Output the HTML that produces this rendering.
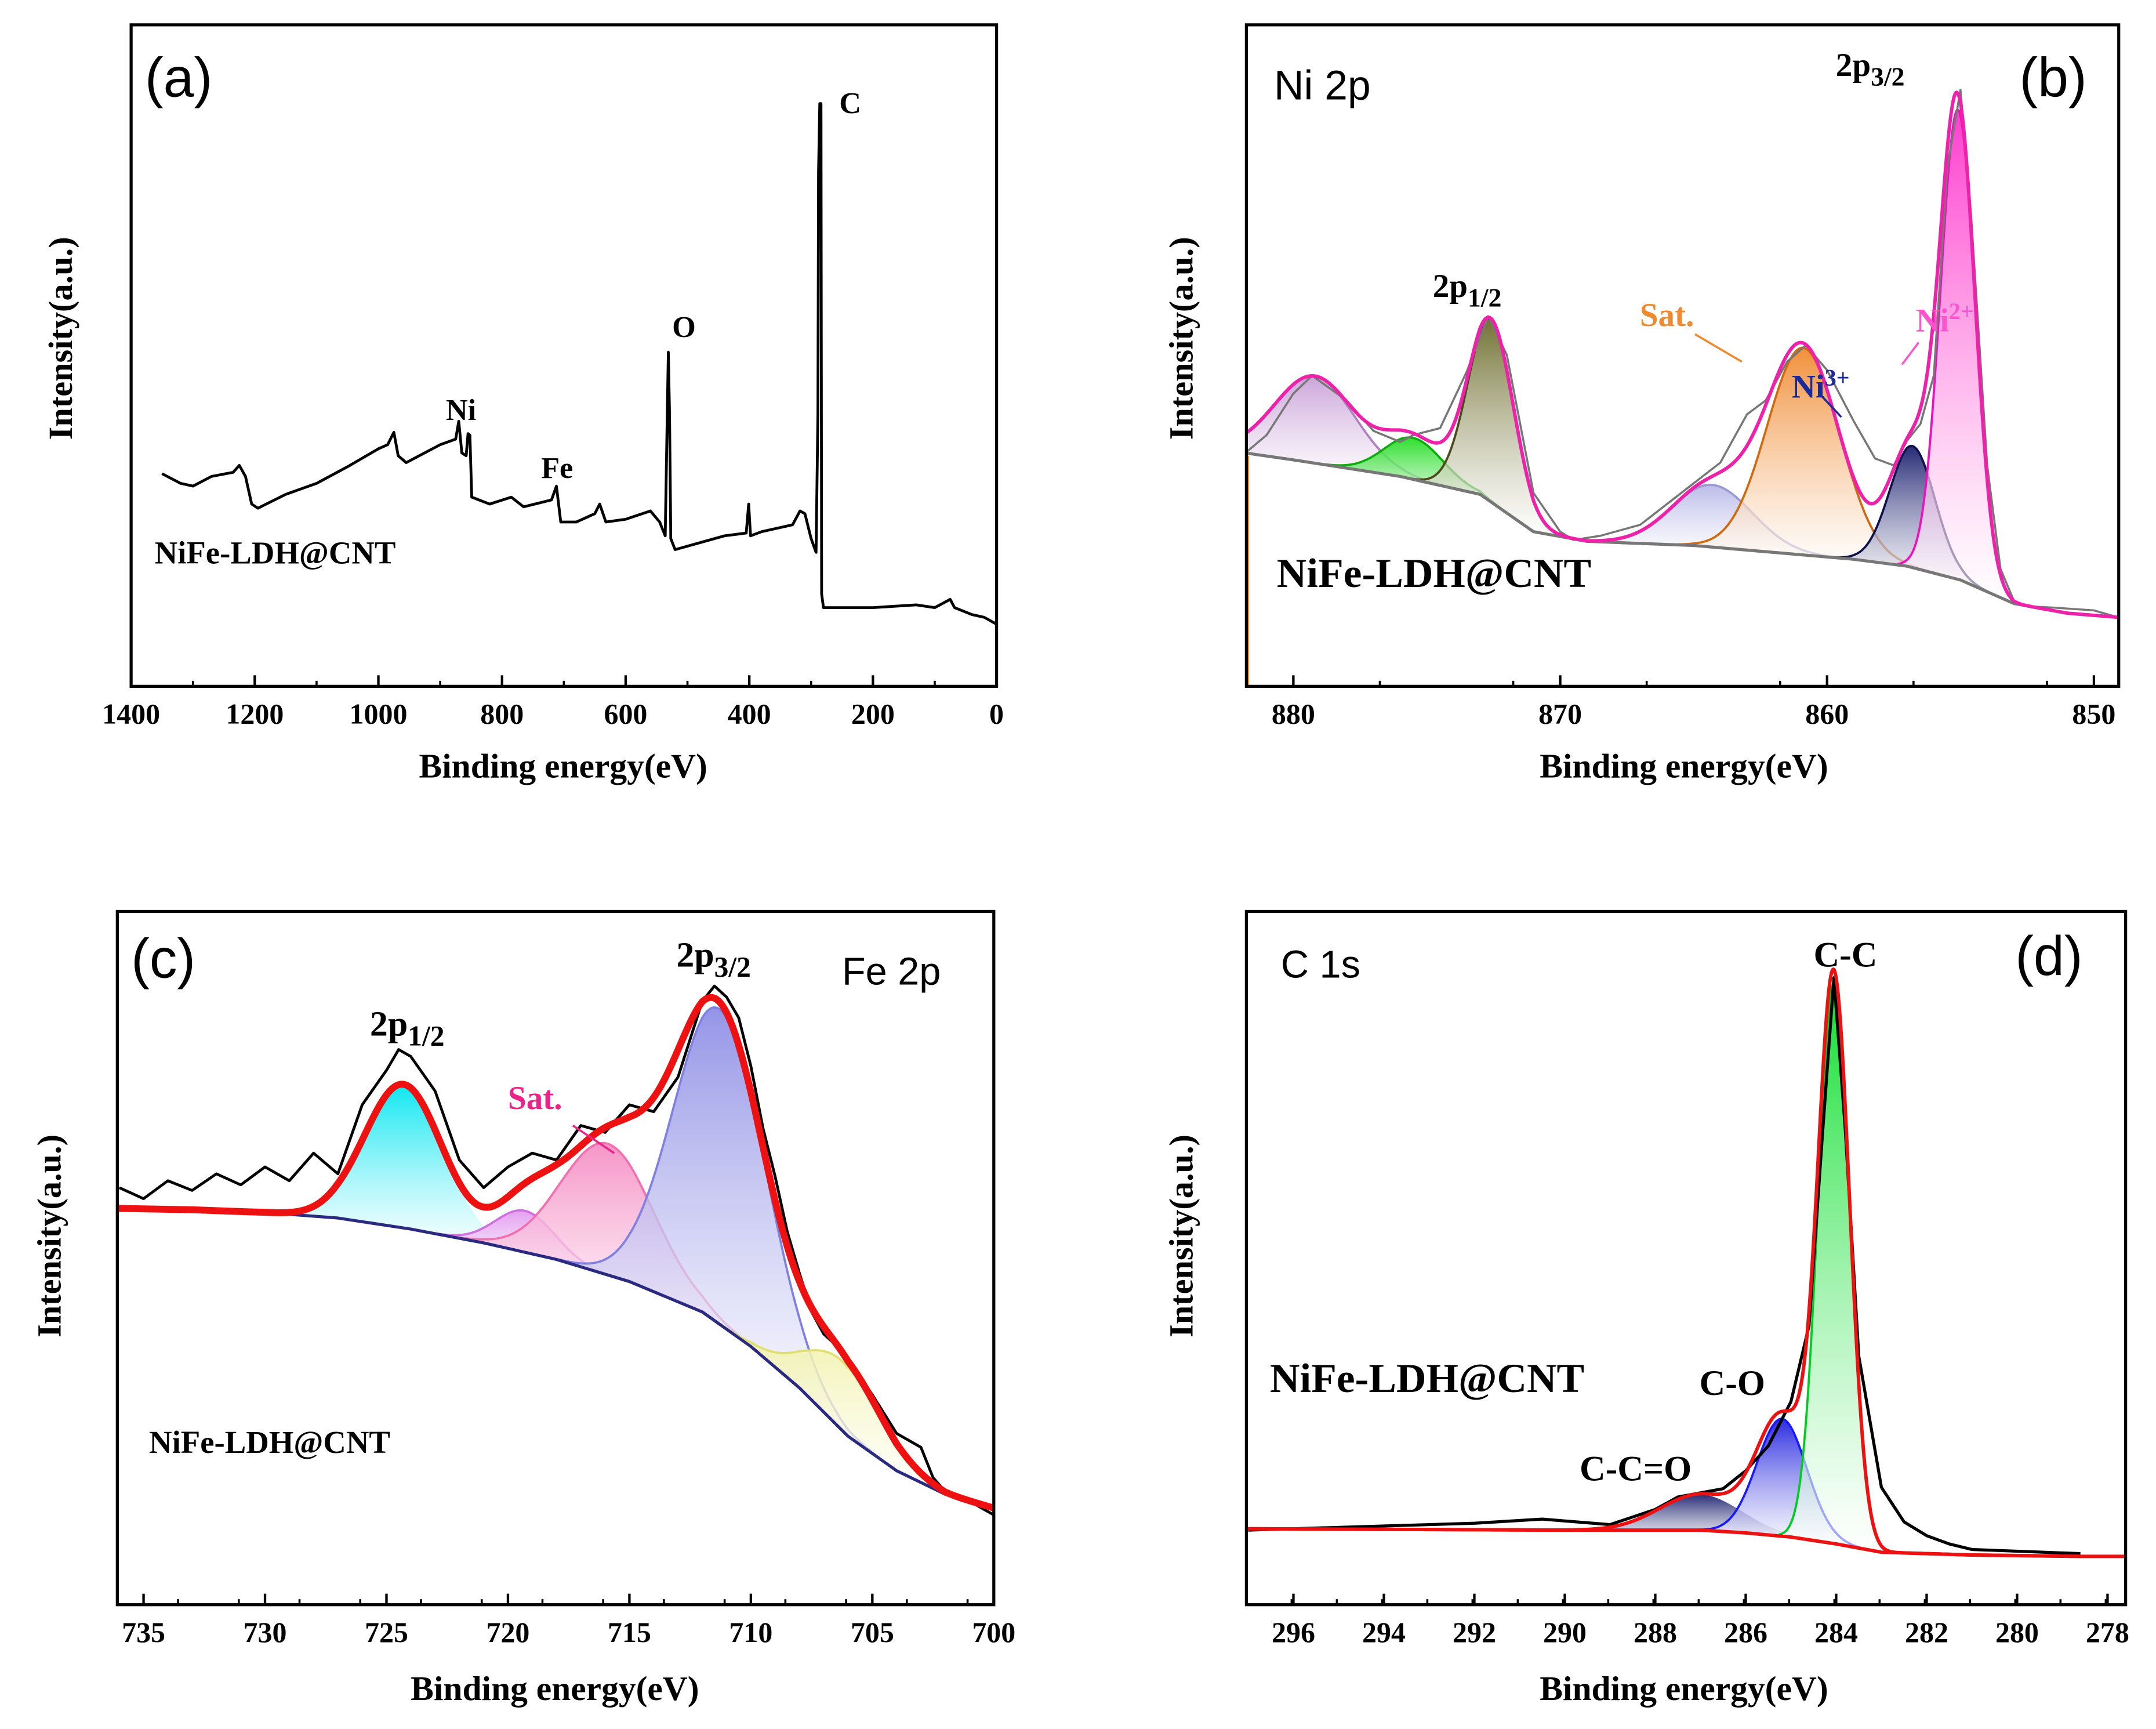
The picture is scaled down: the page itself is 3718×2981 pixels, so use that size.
<!DOCTYPE html>
<html><head><meta charset="utf-8"><style>
html,body{margin:0;padding:0;background:#fff}
svg{display:block}
.ser{font-family:"Liberation Serif",serif;font-weight:bold}
.san{font-family:"Liberation Sans",sans-serif}
</style></head><body>
<svg id="fig" width="3718" height="2981" viewBox="0 0 1562 1252" preserveAspectRatio="none" xmlns="http://www.w3.org/2000/svg">
<defs id="defs"></defs>
<g id="root"></g>
</svg>
<script>
// ---------- Panel (a) survey ----------
const aBE=[1350,1320,1300,1270,1235,1225,1215,1205,1195,1150,1100,1050,1000,985,975,968,955,900,875,870,865,858,855,852,849,820,785,765,720,712,705,680,650,642,632,600,560,545,536,533,531,529,527,520,480,440,405,401,398,380,330,318,310,300,292,289,288,286,284,283,280,200,130,100,75,68,40,20,0];
const aVal=[154,147,145,152,155,160,152,132,129,139,147,159,172,175,184,167,162,175,179,192,169,167,183,182,137,132,137,130,135,145,119,119,125,132,119,121,127,119,109,189,242,197,107,99,104,109,111,132,109,112,117,127,125,107,97,197,372,422,422,67,57,57,59,57,63,57,52,50,45];
const aTicks=[1400,1200,1000,800,600,400,200,0];
// ---------- Panel (b) Ni 2p ----------
const bBaseBE=[881.8,880,876,873,871,869,865,862,859,857,855,853,851,849.1];
const bBaseVal=[169,164,152,139,112,105,102,97,92,87,77,60,53,50];
const bCenters=[879.2,875.5,872.6,864.3,860.9,856.8,855.1];
const bHeights=[63,30,132,45,150,88,340];
const bSigmas=[1.5,1.1,0.85,1.5,1.35,0.85,0.65];
const bRawBE=[881.8,881,880,879.3,878,877,876,875.5,874.5,873.5,872.7,872,871,870,869.5,868.5,867,866,865,864,863,862.3,861.5,860.8,860,859,858.2,857.5,857,856.5,856,855.5,855,854.6,854,853.5,853,852.5,851.5,850,849.1];
const bRawVal=[169,182,212,225,207,185,177,182,187,228,268,240,140,112,106,109,117,132,147,162,197,207,235,247,229,192,165,160,178,190,225,375,432,340,160,85,62,58,57,55,50];
const bTicks=[880,870,860,850];
// ---------- Panel (c) Fe 2p ----------
const cBaseBE=[736.1,733,730,727,724,721,718,715,712,710,708,706,704,702,700];
const cBaseVal=[287,286,284,280,272,262,250,234,212,187,157,122,97,80,70];
const cCenters=[724.3,719.3,715.9,711.3,706.2];
const cHeights=[104,30,95,228,50];
const cSigmas=[1.6,1.2,1.9,1.9,1.6];
const cRawBE=[736,735,734,733,732,731,730,729,728,727,726,725,724.5,724,723,722,721,720,719,718,717,716,715,714,713,712,711.5,711,710.5,710,709.5,709,708.5,708,707.5,707,706.5,706,705,704,703,702.5,702,701,700];
const cRawVal=[302,294,307,300,312,304,317,307,327,312,362,387,402,397,372,322,302,317,327,322,347,342,362,357,382,437,448,440,425,390,345,310,270,240,212,196,188,178,152,124,114,92,82,75,65];
const cTicks=[735,730,725,720,715,710,705,700];
// ---------- Panel (d) C 1s ----------
const dBaseBE=[297,290,287,286,285,284,283,281,278.6];
const dBaseVal=[55,54,54,52,49,44,38,36,35];
const dCenters=[287.0,285.2,284.05];
const dHeights=[26,85,406];
const dSigmas=[0.9,0.55,0.35];
const dRawBE=[297,292,290.5,289,288,287.5,286.5,286,285.5,285,284.6,284.3,284.05,283.8,283.5,283.0,282.5,282,281.5,281,278.6];
const dRawVal=[54,59,62,58,69,78,84,97,115,147,202,342,454,345,180,85,60,50,44,40,37];
const dTicks=[296,294,292,290,288,286,284,282,280,278];

const NS="http://www.w3.org/2000/svg";
const root=document.getElementById('root');
const defs=document.getElementById('defs');
function mk(tag,attrs,parent){const e=document.createElementNS(NS,tag);for(const k in attrs)e.setAttribute(k,attrs[k]);(parent||root).appendChild(e);return e;}
function interp(xs,ys,x){
  if(x>=xs[0])return ys[0];
  for(let i=1;i<xs.length;i++){if(x>=xs[i]){const t=(x-xs[i-1])/(xs[i]-xs[i-1]);return ys[i-1]+t*(ys[i]-ys[i-1]);}}
  return ys[ys.length-1];
}
function makeAxes(L,R,T,B,lo,hi){return {x:v=>L+(hi-v)/(hi-lo)*(R-L),y:v=>B-v,L,R,T,B,lo,hi};}
let gid=0;
function grad(color,op){const id='g'+(gid++);const g=mk('linearGradient',{id:id,x1:0,y1:0,x2:0,y2:1},defs);
 mk('stop',{offset:'0%','stop-color':color,'stop-opacity':op},g);mk('stop',{offset:'100%','stop-color':'#ffffff','stop-opacity':0.6},g);return 'url(#'+id+')';}
function frame(ax,name){const r=mk('rect',{x:ax.L,y:ax.T,width:ax.R-ax.L,height:ax.B-ax.T,fill:'none',stroke:'#000','stroke-width':2.2});
 }
function ticks(ax,list,minorStep,name){
 const g=mk('g',{});
 for(let v=ax.hi;v>=ax.lo;v-=minorStep){const X=ax.x(v);if(X<ax.L+1||X>ax.R-1)continue;mk('line',{x1:X,x2:X,y1:ax.B,y2:ax.B-4,stroke:'#000','stroke-width':1.5},g);}
 list.forEach(v=>{const X=ax.x(v);mk('line',{x1:X,x2:X,y1:ax.B,y2:ax.B-8,stroke:'#000','stroke-width':1.8},g);
  const t=mk('text',{x:X,y:ax.B+27,'text-anchor':'middle','font-size':21,class:'ser'},g);t.textContent=v;});
}
function txt(x,y,s,size,cls,fill,name,anchor){const t=mk('text',{x:x,y:y,'font-size':size,class:cls,fill:fill||'#000','text-anchor':anchor||'start'});t.textContent=s;
 return t;}
function sub(x,y,main,s,size,fill,name){const t=mk('text',{x:x,y:y,'font-size':size,class:'ser',fill:fill||'#000'});
 
 const a=mk('tspan',{},t);a.textContent=main;const b=mk('tspan',{dy:7,'font-size':size*0.8},t);b.textContent=s;return t;}
function sup(x,y,main,s,size,fill,name){const t=mk('text',{x:x,y:y,'font-size':size,class:'ser',fill:fill});
 
 const a=mk('tspan',{},t);a.textContent=main;const b=mk('tspan',{dy:-9,'font-size':size*0.7},t);b.textContent=s;return t;}
function poly(ax,xs,ys,stroke,w,name){let d='';for(let i=0;i<xs.length;i++){d+=(i?'L':'M')+ax.x(xs[i]).toFixed(2)+','+ax.y(ys[i]).toFixed(2);}
 const p=mk('path',{d:d,fill:'none',stroke:stroke,'stroke-width':w,'stroke-linejoin':'round'});return p;}
function gauss(c,h,s,x){return h*Math.exp(-((x-c)*(x-c))/(2*s*s));}
function components(ax,bx,bv,cs,hs,ss,colors,strokes,op,prefix){
 cs.forEach((c,i)=>{const xs=[],top=[],bot=[];const a=Math.min(ax.hi,c+3.5*ss[i]),b=Math.max(ax.lo,c-3.5*ss[i]);
  for(let x=a;x>=b;x-=0.02){xs.push(x);const base=interp(bx,bv,x);bot.push(base);top.push(base+gauss(c,hs[i],ss[i],x));}
  let d='';xs.forEach((x,k)=>{d+=(k?'L':'M')+ax.x(x).toFixed(2)+','+ax.y(top[k]).toFixed(2);});
  for(let k=xs.length-1;k>=0;k--)d+='L'+ax.x(xs[k]).toFixed(2)+','+ax.y(bot[k]).toFixed(2);d+='Z';
  const p=mk('path',{d:d,fill:grad(colors[i],op),stroke:'none'});
  if(strokes[i])poly(ax,xs,top,strokes[i],1.6,prefix+'-outline-'+i);
 });
}
function envelope(ax,bx,bv,cs,hs,ss,stroke,w,name){const xs=[],ys=[];
 for(let x=ax.hi;x>=ax.lo;x-=0.02){xs.push(x);let v=interp(bx,bv,x);cs.forEach((c,i)=>v+=gauss(c,hs[i],ss[i],x));ys.push(v);}
 poly(ax,xs,ys,stroke,w,name);}
function ylabel(x,cy,name){const t=mk('text',{x:x,y:cy,'font-size':24.5,class:'ser','text-anchor':'middle',transform:'rotate(-90 '+x+' '+cy+')'});
 t.textContent='Intensity(a.u.)';}

// ===== (a)
const A=makeAxes(95,722,18,497,0,1400);
frame(A,'panel-a-frame');ticks(A,aTicks,100,'panel-a-x-ticks');
poly(A,aBE,aVal,'#000',2,'panel-a-survey-line');
txt(105,70,'(a)',40,'san','#000','panel-a-label');
txt(608,82,'C',22,'ser','#000','peak-label-c');
txt(487,244,'O',22,'ser','#000','peak-label-o');
txt(323,304,'Ni',22,'ser','#000','peak-label-ni');
txt(392,346,'Fe',22,'ser','#000','peak-label-fe');
txt(112,408,'NiFe-LDH@CNT',23,'ser','#000','panel-a-sample-label');
ylabel(52,245,'panel-a-y-title');
txt(408,563,'Binding energy(eV)',25,'ser','#000','panel-a-x-title','middle');

// ===== (b)
const Bx=makeAxes(903,1535,18,497,849.07,881.76);
components(Bx,bBaseBE,bBaseVal,bCenters,bHeights,bSigmas,['#c9a0d8','#22dd22','#6b6b2a','#b8b8e8','#f08a30','#1a1f6e','#ff33cc'],['#b080c0','#11aa11','#4a4a1a','#9a9ad0','#d06a10','#10104a','#ee11bb'],0.95,'panel-b-component');
poly(Bx,bRawBE,bRawVal,'#777',1.5,'panel-b-raw-line');
poly(Bx,bBaseBE,bBaseVal,'#777',2.2,'panel-b-baseline');
envelope(Bx,bBaseBE,bBaseVal,bCenters,bHeights,bSigmas,'#ee22aa',2.5,'panel-b-envelope');
mk('line',{x1:904,x2:904,y1:330,y2:497,stroke:'#f08a30','stroke-width':2});
frame(Bx,'panel-b-frame');ticks(Bx,bTicks,5,'panel-b-x-ticks');
txt(923,72,'Ni 2p',30,'san','#000','panel-b-title');
txt(1463,70,'(b)',40,'san','#000','panel-b-label');
sub(1330,55,'2p','3/2',24,'#000','label-2p32-ni');
sub(1038,215,'2p','1/2',24,'#000','label-2p12-ni');
txt(1188,236,'Sat.',24,'ser','#f08a30','label-sat-ni');
sup(1298,288,'Ni','3+',24,'#1a2a9a','label-ni3');
sup(1388,240,'Ni','2+',24,'#ff55cc','label-ni2');
mk('line',{x1:1228,y1:242,x2:1262,y2:262,stroke:'#f08a30','stroke-width':1.5});
mk('line',{x1:1320,y1:287,x2:1334,y2:302,stroke:'#1a2a9a','stroke-width':1.5});
mk('line',{x1:1390,y1:248,x2:1378,y2:264,stroke:'#ff55cc','stroke-width':1.5});
txt(925,425,'NiFe-LDH@CNT',30,'ser','#000','panel-b-sample-label');
ylabel(864,245,'panel-b-y-title');
txt(1220,563,'Binding energy(eV)',25,'ser','#000','panel-b-x-title','middle');

// ===== (c)
const Cx=makeAxes(85,720,660,1162,700,736.08);
components(Cx,cBaseBE,cBaseVal,cCenters,cHeights,cSigmas,['#00e5f0','#e39af0','#f58fc4','#8f8fe6','#f0f0a0'],[null,'#d070e0','#f070b0','#8080e0','#e0e070'],0.95,'panel-c-component');
poly(Cx,cRawBE,cRawVal,'#000',2,'panel-c-raw-line');
poly(Cx,cBaseBE,cBaseVal,'#2a2a80',2.2,'panel-c-baseline');
envelope(Cx,cBaseBE,cBaseVal,cCenters,cHeights,cSigmas,'#ee1111',5,'panel-c-envelope');
frame(Cx,'panel-c-frame');ticks(Cx,cTicks,2.5,'panel-c-x-ticks');
txt(95,708,'(c)',40,'san','#000','panel-c-label');
txt(610,713,'Fe 2p',28,'san','#000','panel-c-title');
sub(490,700,'2p','3/2',26,'#000','label-2p32-fe');
sub(268,750,'2p','1/2',26,'#000','label-2p12-fe');
txt(368,803,'Sat.',24,'ser','#ee2288','label-sat-fe');
mk('line',{x1:415,y1:815,x2:445,y2:835,stroke:'#ee2288','stroke-width':1.5});
txt(108,1052,'NiFe-LDH@CNT',23,'ser','#000','panel-c-sample-label');
ylabel(44,895,'panel-c-y-title');
txt(402,1231,'Binding energy(eV)',25,'ser','#000','panel-c-x-title','middle');

// ===== (d)
const Dx=makeAxes(903,1540,660,1162,277.6,297.04);
components(Dx,dBaseBE,dBaseVal,dCenters,dHeights,dSigmas,['#1a1f6e','#2020e0','#00dd22'],[null,'#1a1aff','#00cc22'],0.95,'panel-d-component');
poly(Dx,dRawBE,dRawVal,'#000',2.2,'panel-d-raw-line');
poly(Dx,dBaseBE,dBaseVal,'#ee1111',2.5,'panel-d-baseline');
envelope(Dx,dBaseBE,dBaseVal,dCenters,dHeights,dSigmas,'#ee1111',2.5,'panel-d-envelope');
frame(Dx,'panel-d-frame');ticks(Dx,dTicks,1,'panel-d-x-ticks');
txt(928,708,'C 1s',28,'san','#000','panel-d-title');
txt(1460,706,'(d)',40,'san','#000','panel-d-label');
txt(1337,700,'C-C',26,'ser','#000','label-cc','middle');
txt(1255,1010,'C-O',26,'ser','#000','label-co','middle');
txt(1185,1072,'C-C=O',26,'ser','#000','label-cco','middle');
txt(920,1008,'NiFe-LDH@CNT',30,'ser','#000','panel-d-sample-label');
ylabel(864,895,'panel-d-y-title');
txt(1220,1231,'Binding energy(eV)',25,'ser','#000','panel-d-x-title','middle');
</script>
</body></html>
